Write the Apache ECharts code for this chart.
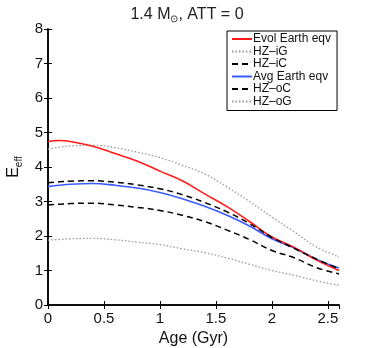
<!DOCTYPE html>
<html>
<head>
<meta charset="utf-8">
<script src="https://cdn.jsdelivr.net/npm/echarts@6/dist/echarts.min.js"></script>
<style>
  html, body { margin: 0; padding: 0; background: #fff; }
  #chart { width: 374px; height: 348px; }
</style>
</head>
<body>
<div id="chart"></div>
<script>
// ages in Gyr
var ages = [0, 0.1, 0.2, 0.4, 0.6, 0.8, 1.0, 1.2, 1.4, 1.6, 1.8, 2.0, 2.2, 2.4, 2.6];
var evolEarth = [4.74, 4.77, 4.74, 4.6, 4.39, 4.17, 3.88, 3.6, 3.22, 2.85, 2.42, 1.97, 1.67, 1.3, 1.0];
var hzIG = [4.52, 4.57, 4.61, 4.63, 4.56, 4.43, 4.27, 4.05, 3.8, 3.42, 3.0, 2.55, 2.12, 1.68, 1.4];
var hzIC = [3.54, 3.57, 3.59, 3.6, 3.56, 3.48, 3.37, 3.2, 2.97, 2.7, 2.36, 1.96, 1.64, 1.33, 1.05];
var avgEarth = [3.43, 3.47, 3.5, 3.52, 3.47, 3.39, 3.26, 3.08, 2.86, 2.6, 2.29, 1.92, 1.65, 1.32, 1.07];
var hzOC = [2.9, 2.92, 2.94, 2.95, 2.9, 2.83, 2.74, 2.6, 2.42, 2.17, 1.9, 1.58, 1.37, 1.08, 0.9];
var hzOG = [1.88, 1.9, 1.92, 1.93, 1.89, 1.82, 1.75, 1.63, 1.52, 1.36, 1.18, 1.0, 0.86, 0.7, 0.57];
var legendNames = ['Evol Earth eqv', 'HZ\u2013iG', 'HZ\u2013iC', 'Avg Earth eqv', 'HZ\u2013oC', 'HZ\u2013oG'];

function pairs (ys) {
  return ages.map(function (x, i) { return [x, ys[i]]; });
}

var dom = echarts.init(document.getElementById('chart'));
var font = 'Liberation Sans, Arial, Helvetica, sans-serif';

function line (name, ys, color, type, width, z) {
  return {
    name: name,
    type: 'line',
    data: pairs(ys),
    smooth: 0.4,
    symbol: 'none',
    z: z,
    lineStyle: { color: color, width: width, type: type },
    itemStyle: { color: color }
  };
}

var axisLine = { show: true, lineStyle: { color: '#000', width: 1.5 } };
var tick = { show: true, inside: true, length: 4, lineStyle: { color: '#000', width: 1 } };

dom.setOption({
  animation: false,
  title: {
    text: '1.4 M{sub|\u2299}, ATT = 0',
    left: 'center',
    top: 1,
    textStyle: {
      fontFamily: font, fontSize: 16, fontWeight: 'normal', color: '#222',
      rich: { sub: { fontFamily: font, fontSize: 10, color: '#222', padding: [8, 0, 0, 0] } }
    }
  },
  grid: { left: 48, right: 35, top: 29, bottom: 43, outerBoundsMode: 'none', containLabel: false },
  legend: {
    data: legendNames,
    orient: 'vertical',
    left: 227,
    top: 31,
    width: 109,
    padding: [2, 6, 3, 4],
    itemWidth: 20,
    itemHeight: 14,
    itemGap: 0.5,
    itemStyle: { opacity: 0 },
    borderColor: '#000',
    borderWidth: 1,
    backgroundColor: '#fff',
    textStyle: { fontFamily: font, fontSize: 12, color: '#111', padding: [0, 0, 0, -4] }
  },
  xAxis: [{
    type: 'value',
    min: 0,
    max: 2.6,
    interval: 0.5,
    name: 'Age (Gyr)',
    nameLocation: 'middle',
    nameGap: 22,
    nameTextStyle: { fontFamily: font, fontSize: 16, color: '#111' },
    axisLine: axisLine,
    axisTick: tick,
    splitLine: { show: false },
    axisLabel: { fontFamily: font, fontSize: 15, color: '#111', showMaxLabel: false, margin: 6 }
  }, {
    type: 'value',
    position: 'top',
    min: 0,
    max: 2.6,
    interval: 0.5,
    axisLine: axisLine,
    axisTick: tick,
    splitLine: { show: false },
    axisLabel: { show: false }
  }],
  yAxis: [{
    type: 'value',
    min: 0,
    max: 8,
    interval: 1,
    name: 'E{sub|eff}',
    nameLocation: 'middle',
    nameRotate: 90,
    nameGap: 23,
    nameTextStyle: {
      fontFamily: font, fontSize: 16, color: '#111',
      rich: { sub: { fontFamily: font, fontSize: 10, color: '#111', padding: [10, 0, 0, 0] } }
    },
    axisLine: axisLine,
    axisTick: tick,
    splitLine: { show: false },
    axisLabel: { fontFamily: font, fontSize: 15, color: '#111', margin: 5 }
  }, {
    type: 'value',
    position: 'right',
    min: 0,
    max: 8,
    interval: 1,
    axisLine: axisLine,
    axisTick: tick,
    splitLine: { show: false },
    axisLabel: { show: false }
  }],
  series: [
    line(legendNames[5], hzOG, '#9a9a9a', [1.5, 2], 1.3, 2),
    line(legendNames[1], hzIG, '#9a9a9a', [1.5, 2], 1.3, 2),
    line(legendNames[4], hzOC, '#000', [6, 4], 1.5, 3),
    line(legendNames[3], avgEarth, '#3a5cff', 'solid', 1.6, 4),
    line(legendNames[0], evolEarth, '#ff1a1a', 'solid', 1.6, 5),
    line(legendNames[2], hzIC, '#000', [6, 4], 1.5, 6)
  ]
});
</script>
</body>
</html>
